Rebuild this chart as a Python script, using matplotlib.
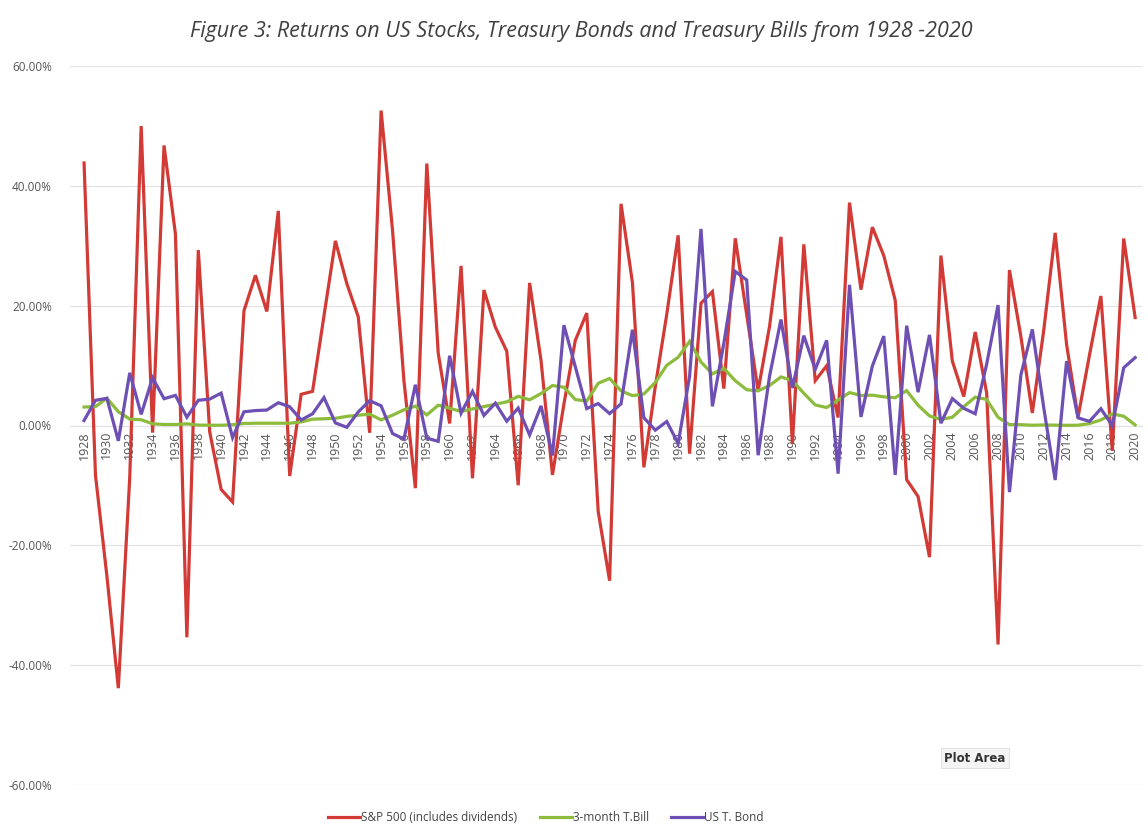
import matplotlib
matplotlib.use("Agg")
import matplotlib.pyplot as plt
import numpy as np

years = list(range(1928, 2021))
sp500 = [43.81, -8.30, -25.12, -43.84, -8.64, 49.98, -1.19, 46.74, 31.94, -35.34,
         29.28, -1.10, -10.67, -12.77, 19.17, 25.06, 19.03, 35.82, -8.43, 5.20,
         5.70, 18.30, 30.81, 23.68, 18.15, -1.21, 52.56, 32.60, 7.44, -10.46,
         43.72, 12.06, 0.34, 26.64, -8.81, 22.61, 16.42, 12.40, -9.97, 23.80,
         10.81, -8.24, 3.56, 14.22, 18.76, -14.31, -25.90, 37.00, 23.83, -6.98,
         6.51, 18.52, 31.74, -4.70, 20.42, 22.34, 6.15, 31.24, 18.49, 5.81,
         16.54, 31.48, -3.06, 30.23, 7.49, 9.97, 1.33, 37.20, 22.68, 33.10,
         28.34, 20.89, -9.03, -11.85, -21.97, 28.36, 10.74, 4.83, 15.61, 5.48,
         -36.55, 25.94, 14.82, 2.10, 15.89, 32.15, 13.52, 1.36, 11.74, 21.61,
         -4.23, 31.21, 18.02]
tbill = [3.08, 3.16, 4.55, 2.31, 1.07, 0.96, 0.28, 0.17, 0.17, 0.28,
         0.07, 0.05, 0.04, 0.13, 0.34, 0.38, 0.38, 0.38, 0.38, 0.60,
         1.05, 1.12, 1.20, 1.52, 1.72, 1.89, 0.94, 1.72, 2.62, 3.22,
         1.77, 3.39, 2.87, 2.35, 2.77, 3.16, 3.55, 3.95, 4.86, 4.29,
         5.34, 6.67, 6.39, 4.33, 4.06, 7.04, 7.85, 5.79, 4.98, 5.26,
         7.18, 10.05, 11.39, 14.04, 10.60, 8.62, 9.54, 7.47, 5.97, 5.78,
         6.67, 8.11, 7.50, 5.38, 3.43, 3.00, 4.25, 5.49, 5.01, 5.06,
         4.78, 4.64, 5.82, 3.39, 1.60, 1.01, 1.37, 3.15, 4.73, 4.36,
         1.37, 0.15, 0.14, 0.05, 0.09, 0.06, 0.03, 0.05, 0.32, 0.93,
         1.94, 1.55, 0.09]
tbond = [0.84, 4.20, 4.54, -2.56, 8.79, 1.86, 7.96, 4.47, 5.02, 1.38,
         4.21, 4.41, 5.40, -2.02, 2.29, 2.49, 2.58, 3.80, 3.13, 0.92,
         1.95, 4.66, 0.43, -0.30, 2.27, 4.14, 3.29, -1.34, -2.26, 6.80,
         -2.10, -2.65, 11.64, 2.06, 5.69, 1.68, 3.73, 0.72, 2.91, -1.58,
         3.27, -5.01, 16.75, 9.79, 2.82, 3.66, 1.99, 3.61, 15.98, 1.29,
         -0.78, 0.67, -2.99, 8.20, 32.81, 3.20, 13.73, 25.71, 24.28, -4.96,
         8.22, 17.69, 6.24, 15.00, 9.36, 14.21, -8.04, 23.48, 1.43, 9.94,
         14.92, -8.25, 16.66, 5.57, 15.12, 0.38, 4.49, 2.87, 1.96, 10.21,
         20.10, -11.12, 8.46, 16.04, 2.97, -9.10, 10.75, 1.28, 0.69, 2.80,
         -0.02, 9.64, 11.33]
series_names = ["S&P 500 (includes dividends)", "3-month T.Bill", "US T. Bond"]
title = "Figure 3: Returns on US Stocks, Treasury Bonds and Treasury Bills from 1928 -2020"
yticks = [-60, -40, -20, 0, 20, 40, 60]

plt.rcParams['font.family'] = ['Open Sans', 'DejaVu Sans']

fig = plt.figure(figsize=(11.48, 8.26), dpi=100)
ax = fig.add_axes([70/1148, 41/826, (1142-70)/1148, (785-66)/826])

colors = ["#D23A36", "#8DBB3C", "#6E4FB3"]
for vals, name, c in zip([sp500, tbill, tbond], series_names, colors):
    ax.plot(years, vals, color=c, lw=2.3, label=name, zorder=3, solid_joinstyle='miter')

ax.set_ylim(-60, 60)
ax.set_xlim(1926.77, 2020.6)
ax.set_yticks(yticks)
ax.set_yticklabels([f"{v:.2f}%" for v in yticks], fontsize=8.5, color="#555555")
ax.grid(axis='y', color="#E3E3E3", lw=0.9, zorder=0)
for s in ['top', 'right', 'left']:
    ax.spines[s].set_visible(False)
ax.spines['bottom'].set_position(('data', 0))
ax.spines['bottom'].set_color("#E3E3E3")
ax.spines['bottom'].set_zorder(0)
ax.tick_params(axis='y', length=0, pad=13)
ax.set_xticks(years[::2])
ax.set_xticklabels([str(y) for y in years[::2]], rotation=90, fontsize=9, color="#555555")
ax.tick_params(axis='x', length=0, pad=4)
for lbl in ax.get_xticklabels():
    lbl.set_zorder(1)

fig.text(581/1148, 1-32/826, title, ha='center', va='center', fontsize=15.5,
         style='italic', color="#404040")

leg = ax.legend(loc='center', bbox_to_anchor=((546-70)/1072, -0.045), ncol=3, frameon=False,
                fontsize=8.5, handlelength=2.7, handletextpad=0.1, columnspacing=1.9)
for t in leg.get_texts():
    t.set_color("#444444")

fig.text(975/1148, 1-758/826, "Plot Area", ha='center', va='center', fontsize=8.5,
         fontweight='bold', color="#333333", family=['DejaVu Sans'],
         bbox=dict(boxstyle='square,pad=0.3', fc='#F4F4F4', ec='#DDDDDD', lw=0.6))

fig.savefig("out.png", dpi=100, facecolor='white')
